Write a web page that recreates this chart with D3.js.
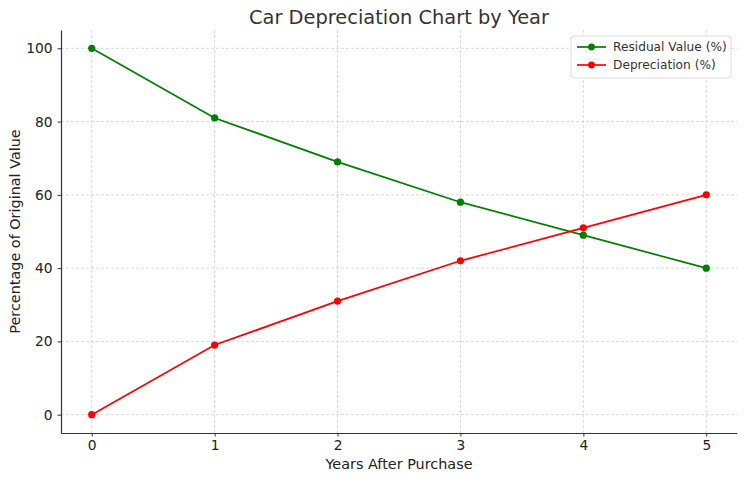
<!DOCTYPE html>
<html>
<head>
<meta charset="utf-8">
<script src="https://cdn.jsdelivr.net/npm/d3@7"></script>
<style>
  body { margin: 0; background: #fff; }
  svg, svg text { font-family: "DejaVu Sans", sans-serif; }
</style>
</head>
<body>
<script>
// données
const years = [0, 1, 2, 3, 4, 5]
const residual = [100, 81, 69, 58, 49, 40]
const depreciation = [0, 19, 31, 42, 51, 60]
const yTicks = [0, 20, 40, 60, 80, 100]
const seriesNames = ["Residual Value (%)", "Depreciation (%)"]
const seriesColors = ["green", "red"]

const width = 750
const height = 481
const margin = { top: 30, right: 13, bottom: 48, left: 61 }

const svg = d3.select("body").append("svg")
    .attr("width", width)
    .attr("height", height)

const x = d3.scaleLinear()
    .domain([-0.25, 5.25])
    .range([margin.left, width - margin.right])
const y = d3.scaleLinear()
    .domain([-5, 105])
    .range([height - margin.bottom, margin.top])

// grille
svg.append("g")
    .selectAll("line")
    .data(years)
    .enter()
    .append("line")
    .attr("x1", d => x(d)).attr("x2", d => x(d))
    .attr("y1", margin.top).attr("y2", height - margin.bottom)
    .attr("stroke", "#d0d0d0").attr("stroke-width", 0.8).attr("stroke-dasharray", "3,2")
svg.append("g")
    .selectAll("line")
    .data(yTicks)
    .enter()
    .append("line")
    .attr("x1", margin.left).attr("x2", width - margin.right)
    .attr("y1", d => y(d)).attr("y2", d => y(d))
    .attr("stroke", "#d0d0d0").attr("stroke-width", 0.8).attr("stroke-dasharray", "3,2")

// axes
const xAxis = svg.append("g")
    .attr("transform", "translate(0," + (height - margin.bottom) + ")")
    .call(d3.axisBottom(x).tickValues(years).tickFormat(d3.format("d")).tickSize(3.5).tickPadding(4).tickSizeOuter(0))
const yAxis = svg.append("g")
    .attr("transform", "translate(" + margin.left + ",0)")
    .call(d3.axisLeft(y).tickValues(yTicks).tickFormat(d3.format("d")).tickSize(3.5).tickPadding(5).tickSizeOuter(0))
for (const ax of [xAxis, yAxis]) {
    ax.attr("font-family", null).attr("font-size", null)
    ax.select(".domain").attr("stroke", "#333").attr("stroke-width", 1.2)
    ax.selectAll(".tick line").attr("stroke", "#333")
    ax.selectAll(".tick text").attr("fill", "#222").style("font-size", "13.8px")
}

// titres
svg.append("text")
    .attr("x", (margin.left + width - margin.right) / 2)
    .attr("y", 24)
    .attr("text-anchor", "middle")
    .style("font-size", "19.4px")
    .attr("fill", "#333")
    .text("Car Depreciation Chart by Year")
svg.append("text")
    .attr("x", (margin.left + width - margin.right) / 2)
    .attr("y", 469)
    .attr("text-anchor", "middle")
    .style("font-size", "14.4px")
    .attr("fill", "#222")
    .text("Years After Purchase")
svg.append("text")
    .attr("transform", "translate(20," + (margin.top + height - margin.bottom) / 2 + ") rotate(-90)")
    .attr("text-anchor", "middle")
    .style("font-size", "14.4px")
    .attr("fill", "#222")
    .text("Percentage of Original Value")

// séries
const series = [residual, depreciation]
const line = d3.line().x((d, i) => x(years[i])).y(d => y(d))
series.forEach((vals, k) => {
    svg.append("path")
        .datum(vals)
        .attr("d", line)
        .attr("fill", "none")
        .attr("stroke", seriesColors[k])
        .attr("stroke-width", 1.7)
    svg.append("g")
        .selectAll("circle")
        .data(vals)
        .enter()
        .append("circle")
        .attr("cx", (d, i) => x(years[i]))
        .attr("cy", d => y(d))
        .attr("r", 3.6)
        .attr("fill", seriesColors[k])
})

// légende
const lg = svg.append("g").attr("transform", "translate(571,36)")
lg.append("rect")
    .attr("width", 160).attr("height", 42)
    .attr("rx", 3)
    .attr("fill", "white").attr("fill-opacity", 0.85)
    .attr("stroke", "#dddddd")
seriesNames.forEach((name, k) => {
    const yy = 11 + k * 18
    lg.append("line")
        .attr("x1", 6).attr("x2", 35).attr("y1", yy).attr("y2", yy)
        .attr("stroke", seriesColors[k]).attr("stroke-width", 1.7)
    lg.append("circle").attr("cx", 20.5).attr("cy", yy).attr("r", 3.4).attr("fill", seriesColors[k])
    lg.append("text")
        .attr("x", 42).attr("y", yy + 4.3)
        .style("font-size", "12.2px")
        .attr("fill", "#333")
        .text(name)
})
</script>
</body>
</html>
